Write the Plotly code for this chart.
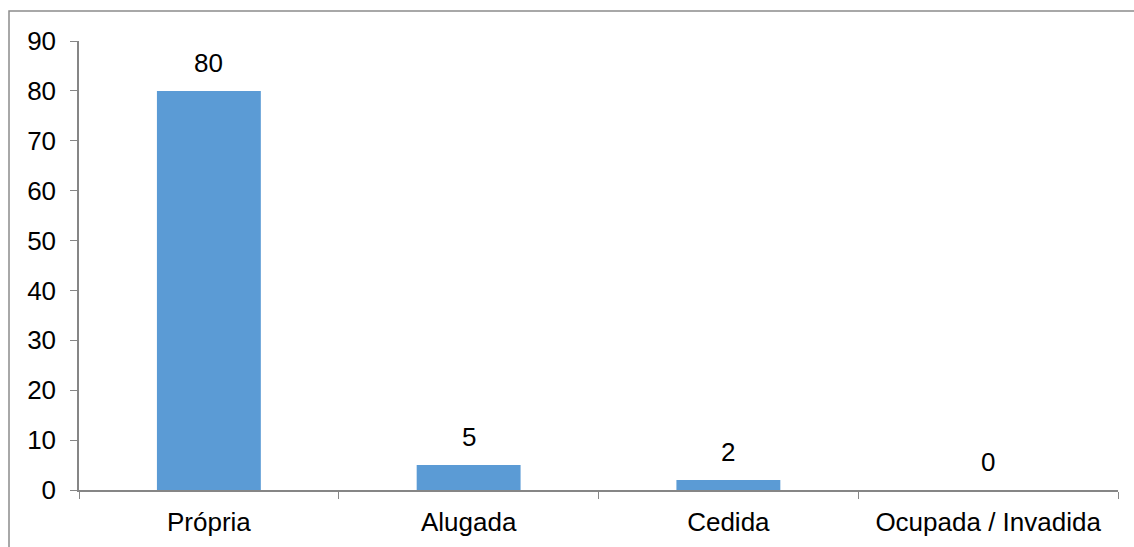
import plotly.graph_objects as go

categories = ["Própria", "Alugada", "Cedida", "Ocupada / Invadida"]
values = [80, 5, 2, 0]
y_ticks = [0, 10, 20, 30, 40, 50, 60, 70, 80, 90]

bar_color = "#5B9BD5"
axis_color = "#868686"
font_family = "Liberation Sans, Arial, sans-serif"
font_size = 26

fig = go.Figure(
    go.Bar(
        x=categories,
        y=values,
        marker=dict(color=bar_color, line=dict(width=0)),
        width=0.4,
        hoverinfo="x+y",
    )
)

# value labels above each bar
for cat, val in zip(categories, values):
    fig.add_annotation(
        x=cat, y=val, text=str(val), showarrow=False,
        yanchor="bottom", yshift=11,
        font=dict(family=font_family, size=font_size, color="#000000"),
    )

# outer chart frame
fig.add_shape(
    type="rect", xref="paper", yref="paper",
    x0=(9 - 79) / 1039, x1=1.1, y0=-0.3, y1=(490 - 11) / 449,
    line=dict(color="#8c8c8c", width=1.5), fillcolor="rgba(0,0,0,0)",
    layer="below",
)

fig.update_layout(
    width=1134, height=547,
    margin=dict(l=79, r=16, t=41, b=57),
    paper_bgcolor="white", plot_bgcolor="white",
    showlegend=False,
    font=dict(family=font_family, size=font_size, color="#000000"),
    bargap=0.6,
)

fig.update_xaxes(
    type="category", automargin=False,
    showline=True, linecolor=axis_color, linewidth=1.5,
    ticks="outside", tickson="boundaries", ticklen=7, tickcolor=axis_color, tickwidth=1,
    showgrid=False, zeroline=False,
    tickfont=dict(family=font_family, size=font_size, color="#000000"),
    ticklabelstandoff=8,
)

fig.update_yaxes(
    range=[0, 90], tickvals=y_ticks, automargin=False,
    showline=True, linecolor=axis_color, linewidth=1.5,
    ticks="outside", ticklen=7, tickcolor=axis_color, tickwidth=1,
    showgrid=False, zeroline=False,
    tickfont=dict(family=font_family, size=font_size, color="#000000"),
    ticklabelstandoff=9,
)

fig.write_html("out.html")
